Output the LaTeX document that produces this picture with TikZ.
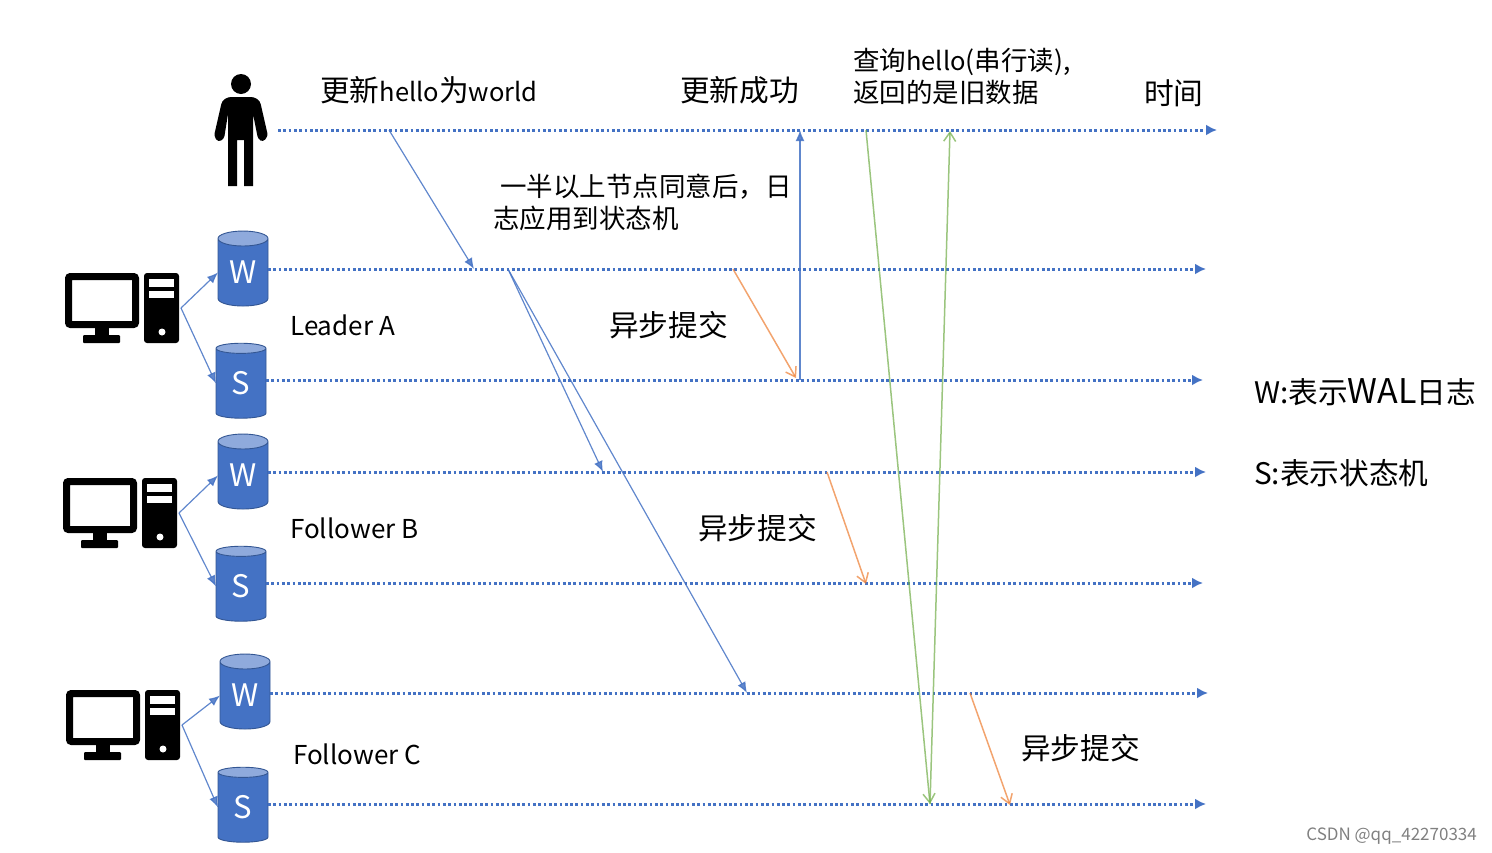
\documentclass[tikz,border=0pt]{standalone}
\usepackage{fontspec}
\setmainfont{Noto Sans CJK SC}
\usetikzlibrary{arrows.meta,shapes.geometric}
\definecolor{lineblue}{HTML}{4472C4}
\definecolor{lineorange}{HTML}{ED7D31}
\definecolor{linegreen}{HTML}{70AD47}
\tikzset{
	timeline/.style={lineblue, line width=3pt, dash pattern=on 2.7pt off 2.6pt, -{Latex[length=11pt,width=11pt]}},
	msgblue/.style={lineblue, line width=1.2pt, opacity=0.85, -{Latex[length=11pt,width=9pt]}},
	msgorange/.style={lineorange, line width=1.5pt, opacity=0.7, -{Straight Barb[length=9pt,width=12pt]}},
	msggreen/.style={linegreen, line width=1.5pt, opacity=0.7, -{Straight Barb[length=9pt,width=12pt]}},
	dbstore/.style={cylinder, shape border rotate=90, aspect=0.55, draw=lineblue!75!black, line width=0.9pt,
		cylinder uses custom fill, cylinder body fill=lineblue, cylinder end fill=lineblue!60!white,
		minimum width=50pt, minimum height=75pt, inner sep=0pt, outer sep=0pt, text=white, font=\fontsize{31}{31}\selectfont},
	bigtext/.style={font=\fontsize{29.7}{32}\selectfont, inner sep=0pt},
	midtext/.style={font=\fontsize{26.5}{32}\selectfont, inner sep=0pt, align=left},
	roletext/.style={font=\fontsize{26}{30}\selectfont, inner sep=0pt, anchor=west},
}
% latin words are set a little smaller or larger than the text round them
\def\latinword#1#2{{\fontsize{#1}{32}\selectfont #2}}
% computer icon, the second argument names the point the arrows leave from
\def\pcicon(#1,#2)#3{
	\begin{scope}[shift={(#1,#2)}]
		\draw[line width=7pt, rounded corners=2pt] (68.5, 276.5) rectangle (135.5, 324.5);
		\fill (95, 326) rectangle (109, 336);
		\fill[rounded corners=1pt] (83, 335) rectangle (120, 343);
		\fill[rounded corners=3pt] (144, 273) rectangle (179, 343);
		\fill[white] (149, 279) rectangle (174, 287);
		\fill[white] (149, 291) rectangle (174, 298);
		\fill[white] (162, 332) circle (3.5);
		\coordinate (#3) at (181, 308);
	\end{scope}
}

\begin{document}
\begin{tikzpicture}[x=1pt, y=-1pt]
	\useasboundingbox (0, 0) rectangle (1492, 852);
	
	%%%%% person %%%%%
	\fill (241, 84) circle (10);
	\fill[rounded corners=3pt] (222, 101) -- (228, 97) -- (254, 97) -- (260, 101) -- (268, 136) -- (263, 142) -- (258, 139) -- (253, 114) [sharp corners] -- (253, 186) -- (244, 186) -- (244, 140) -- (237, 140) -- (237, 186) -- (228, 186) -- (228, 114) [rounded corners=3pt] -- (224, 139) -- (218, 142) -- (214, 136) -- cycle;
	
	%%%%% computers %%%%%
	\pcicon(0,0){pca}
	\pcicon(-2,205){pcb}
	\pcicon(1,417){pcc}
	
	\node[dbstore] (wa) at (243, 272.5) {W};
	\node[dbstore] (sa) at (241, 383.5) {S};
	\node[dbstore] (wb) at (243, 475.5) {W};
	\node[dbstore] (sb) at (241, 586.5) {S};
	\node[dbstore] (wc) at (245, 695.5) {W};
	\node[dbstore] (sc) at (243, 807.5) {S};
	
	\draw[msgblue] (pca) -- (wa.west);
	\draw[msgblue] (pca) -- (sa.west);
	\draw[msgblue] (pcb) -- (wb.west);
	\draw[msgblue] (pcb) -- (sb.west);
	\draw[msgblue] (pcc) -- (wc.west);
	\draw[msgblue] (pcc) -- (sc.west);
	
	%%%%% time lines %%%%%
	\coordinate (user) at (278, 130);
	\coordinate (userend) at (1217, 130);
	\coordinate (waend) at (1206, 269);
	\coordinate (saend) at (1203, 380);
	\coordinate (wbend) at (1206, 472);
	\coordinate (sbend) at (1203, 583);
	\coordinate (wcend) at (1208, 693);
	\coordinate (scend) at (1206, 804);
	
	\draw[timeline] (user) -- (userend);
	\draw[timeline] (wa.east |- waend) -- (waend);
	\draw[timeline] (sa.east |- saend) -- (saend);
	\draw[timeline] (wb.east |- wbend) -- (wbend);
	\draw[timeline] (sb.east |- sbend) -- (sbend);
	\draw[timeline] (wc.east |- wcend) -- (wcend);
	\draw[timeline] (sc.east |- scend) -- (scend);
	
	%%%%% messages %%%%%
	\coordinate (upd) at (389, 130);
	\coordinate (updw) at (474, 269);
	\coordinate (rep) at (508, 269);
	\coordinate (repb) at (603, 472);
	\coordinate (repc) at (747, 693);
	\coordinate (oka) at (800, 380);
	\coordinate (okuser) at (800, 130);
	\draw[msgblue] (upd) -- (updw);
	\draw[msgblue] (rep) -- (repb);
	\draw[msgblue] (rep) -- (repc);
	\draw[msgblue, line width=1.6pt] (oka) -- (okuser);
	
	\coordinate (asa) at (733, 269);
	\coordinate (asaend) at (796, 378);
	\coordinate (asb) at (827, 472);
	\coordinate (asbend) at (866, 584);
	\coordinate (asc) at (970, 693);
	\coordinate (ascend) at (1010, 805);
	\draw[msgorange] (asa) -- (asaend);
	\draw[msgorange] (asb) -- (asbend);
	\draw[msgorange] (asc) -- (ascend);
	
	\coordinate (qry) at (866, 130);
	\coordinate (qrys) at (930, 804);
	\coordinate (ans) at (950, 131);
	\draw[msggreen] (qry) -- (qrys);
	\draw[msggreen] (qrys) -- (ans);
	
	%%%%% labels %%%%%
	\node[bigtext, anchor=west] (updtxt) at (320, 90) {更新\latinword{25.5}{hello}为\latinword{25.5}{world}};
	\node[bigtext, anchor=west] (oktxt) at (680, 90) {更新成功};
	\node[midtext, anchor=north west] (qrytxt) at (853, 48) {查询\latinword{25.5}{hello}(串行读),\\返回的是旧数据};
	\node[bigtext, anchor=west] (timetxt) at (1144, 93) {时间};
	\node[midtext, anchor=north west] (majtxt) at (493, 174) {\hspace*{7pt}一半以上节点同意后，日\\志应用到状态机};
	\node[bigtext, anchor=west] (asatxt) at (609, 325) {异步提交};
	\node[bigtext, anchor=west] (asbtxt) at (698, 528) {异步提交};
	\node[bigtext, anchor=west] (asctxt) at (1021, 748) {异步提交};
	\node[roletext] (rolea) at (290, 325) {Leader A};
	\node[roletext] (roleb) at (290, 528) {Follower B};
	\node[roletext] (rolec) at (293, 754) {Follower C};
	\node[bigtext, anchor=west] (wnote) at (1254, 392) {W:表示\latinword{34}{WAL}日志};
	\node[bigtext, anchor=west] (snote) at (1254, 473) {S:表示状态机};
	\node[anchor=east, inner sep=0pt, text=black!50, font=\fontsize{17}{20}\selectfont] (mark) at (1477, 836) {CSDN @qq\_42270334};
\end{tikzpicture}
\end{document}
